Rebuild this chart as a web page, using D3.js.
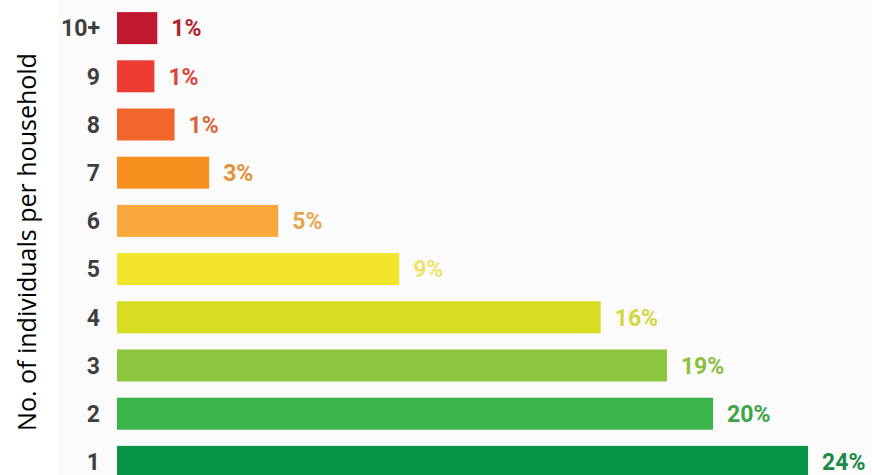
<!DOCTYPE html>
<html>
<head>
<meta charset="utf-8">
<script src="https://cdnjs.cloudflare.com/ajax/libs/d3/7.8.5/d3.min.js"></script>
<style>
  body { margin: 0; background: #fff; }
  svg { display: block; }
</style>
</head>
<body>
<div id="chartDiv"></div>
<script>
// household size chart

// categories, top to bottom
var sizes = ['10+', '9', '8', '7', '6', '5', '4', '3', '2', '1'];
// bar lengths (share, %)
var shares = [1.4, 1.3, 2.0, 3.2, 5.6, 9.8, 16.8, 19.1, 20.7, 24.0];
// printed labels
var pctLabels = ['1%', '1%', '1%', '3%', '5%', '9%', '16%', '19%', '20%', '24%'];
var barColors = ['#c1192f', '#ee3b34', '#f2662c', '#f7901e', '#f9a83b', '#f3e52c', '#d7de21', '#8cc63f', '#39b54a', '#079345'];
var labelColors = ['#b3222f', '#d9463b', '#d9673a', '#e3923a', '#e6a650', '#eee36a', '#d3d83e', '#8bbf42', '#3aa648', '#1b8a46'];

var chartWidth = 872;
var chartHeight = 475;

var svg = d3.select('#chartDiv')
            .append('svg')
            .attr('width', chartWidth)
            .attr('height', chartHeight);

// faint panel behind the bars
svg.append('rect')
   .attr('x', 58)
   .attr('y', 0)
   .attr('width', chartWidth - 58)
   .attr('height', chartHeight)
   .attr('fill', '#fbfbfb');

var x = d3.scaleLinear()
          .domain([0, 24])
          .range([117, 808]);

var y = d3.scaleBand()
          .domain(sizes)
          .range([4, 486])
          .paddingInner(0.336)
          .paddingOuter(0.168);

var rows = sizes.map(function(s, i) {
  return { size: s, share: shares[i], label: pctLabels[i], color: barColors[i], textColor: labelColors[i] };
});

// bars
svg.selectAll('rect.bar')
   .data(rows)
   .enter()
   .append('rect')
   .attr('class', 'bar')
   .attr('x', x(0))
   .attr('y', function(d) { return y(d.size); })
   .attr('width', function(d) { return x(d.share) - x(0); })
   .attr('height', y.bandwidth())
   .attr('fill', function(d) { return d.color; });

// category labels on the left
svg.selectAll('text.cat')
   .data(rows)
   .enter()
   .append('text')
   .attr('class', 'cat')
   .attr('x', 100)
   .attr('y', function(d) { return y(d.size) + y.bandwidth() / 2; })
   .attr('dy', '0.36em')
   .attr('text-anchor', 'end')
   .attr('font-family', 'Roboto, sans-serif')
   .attr('font-weight', 700)
   .attr('font-size', '23px')
   .attr('fill', '#3f3f3f')
   .text(function(d) { return d.size; });

// percentage labels after each bar
svg.selectAll('text.pct')
   .data(rows)
   .enter()
   .append('text')
   .attr('class', 'pct')
   .attr('x', function(d) { return x(d.share) + 14; })
   .attr('y', function(d) { return y(d.size) + y.bandwidth() / 2; })
   .attr('dy', '0.36em')
   .attr('font-family', 'Roboto, sans-serif')
   .attr('font-weight', 700)
   .attr('font-size', '23px')
   .attr('fill', function(d) { return d.textColor; })
   .text(function(d) { return d.label; });

// axis title
svg.append('text')
   .attr('transform', 'translate(36,242) rotate(-90)')
   .attr('text-anchor', 'middle')
   .attr('font-family', '"Open Sans", sans-serif')
   .attr('font-size', '25px')
   .attr('fill', '#000')
   .text('No. of individuals per household');
</script>
</body>
</html>
